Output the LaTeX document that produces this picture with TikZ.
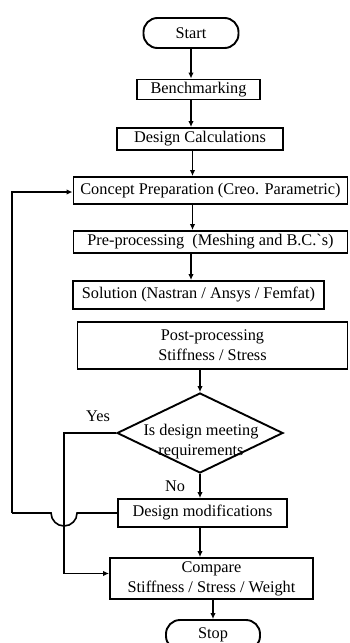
\documentclass[tikz,border=0pt]{standalone}
\usepackage{fontspec}
\setmainfont{Liberation Serif}
\newfontfamily\rawserif{Liberation Serif}
\usetikzlibrary{shapes.geometric,arrows.meta}
\begin{document}
\begin{tikzpicture}[x=1pt,y=-1pt,
  every node/.style={font=\fontsize{16.3}{20}\selectfont, inner sep=0pt, align=center},
  box/.style={draw, line width=1.9pt, rectangle},
  term/.style={draw, line width=1.9pt, rectangle, rounded corners=14pt},
  arr/.style={line width=1.6pt, -{Latex[length=6pt,width=5.5pt]}},
  ln/.style={line width=1.6pt}]
\useasboundingbox (0,0) rectangle (349,643);
\node[term, minimum width=95pt, minimum height=30pt] (start) at (191,33) {Start};
\node[box, minimum width=123pt, minimum height=20pt] (bench) at (198.5,89.5) {Benchmarking};
\node[box, minimum width=166pt, minimum height=22pt] (calc) at (200,139) {Design Calculations};
\node[box, minimum width=274pt, minimum height=27pt] (concept) at (210.5,190.5) {Concept Preparation (Creo. Parametric)};
\node[box, minimum width=274pt, minimum height=22pt] (pre) at (210.5,242) {Pre-processing\ \ (Meshing and B.C.{\rawserif `}s)};
\node[box, minimum width=251pt, minimum height=28pt] (sol) at (198.5,295) {Solution (Nastran / Ansys / Femfat)};
\node[box, minimum width=270pt, minimum height=47pt] (post) at (212.5,345.5) {Post-processing\\Stiffness / Stress};
\node[draw, diamond, line width=1.9pt, minimum width=166pt, minimum height=80pt] (dec) at (200,433) {};
\node (dectext) at (201,442) {Is design meeting\\requirements};
\node[box, minimum width=169pt, minimum height=28pt] (mod) at (202.5,513) {Design modifications};
\node[box, minimum width=203pt, minimum height=41pt] (cmp) at (211.5,578.5) {Compare\\Stiffness / Stress / Weight};
\node[term, minimum width=94pt, minimum height=30pt] (stop) at (213,635) {Stop};
\node (yes) at (98,416) {Yes};
\node (no) at (175,486) {No};
% vertical flow
\draw[arr] (start.south) -- (start.south |- bench.north);
\draw[arr] (start.south |- bench.south) -- (start.south |- calc.north);
\draw[arr] ([xshift=1.5pt]start.south |- calc.south) -- ([xshift=1.5pt]start.south |- concept.north);
\draw[arr] ([xshift=1.5pt]start.south |- concept.south) -- ([xshift=1.5pt]start.south |- pre.north);
\draw[arr] (start.south |- pre.south) -- (start.south |- sol.north);
\draw[arr] (dec.north |- post.south) -- (dec.north);
\draw[arr] (dec.south) -- (dec.south |- mod.north);
\draw[arr] (dec.south |- mod.south) -- (dec.south |- cmp.north);
\draw[arr] (stop.north |- cmp.south) -- (stop.north);
% yes branch
\coordinate (yk) at ([xshift=-52pt]dec.west);
\draw[arr] (dec.west) -- (yk) |- ([yshift=5pt]cmp.west);
% no feedback with jump
\coordinate (j1) at ([xshift=13pt]yk |- mod.west);
\coordinate (lp) at ([xshift=-52pt]yk |- mod.west);
\draw[ln] (mod.west) -- (j1) arc[start angle=0, end angle=-180, radius=13pt] -- (lp);
\draw[arr] (lp) |- ([yshift=-1.5pt]concept.west);
\end{tikzpicture}
\end{document}
